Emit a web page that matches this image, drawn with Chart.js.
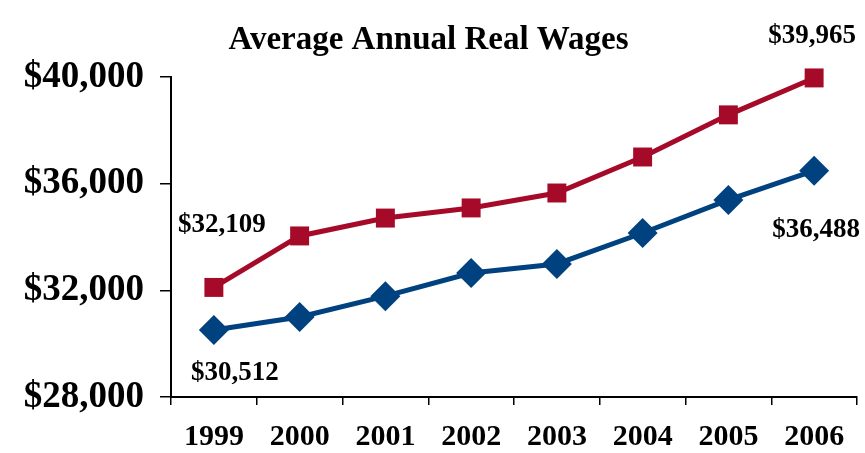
<!DOCTYPE html>
<html>
<head>
<meta charset="utf-8">
<script src="https://cdn.jsdelivr.net/npm/chart.js@4"></script>
<style>
html,body{margin:0;padding:0;background:#fff;}
canvas{display:block;}
</style>
</head>
<body>
<canvas id="c" width="865" height="453"></canvas>
<script>
const years = ['1999','2000','2001','2002','2003','2004','2005','2006'];
const upperSeries = [32109, 34040, 34710, 35090, 35650, 37000, 38580, 39965];
const lowerSeries = [30512, 31000, 31780, 32650, 32990, 34150, 35390, 36488];
const yTicks = [28000, 32000, 36000, 40000];
const titleText = 'Average Annual Real Wages';

const RED = '#A50A28';
const BLUE = '#00427F';
const FONT = "'Liberation Serif', 'Times New Roman', serif";

const fmt = v => '$' + v.toLocaleString('en-US');

// end-point value labels
const endLabels = {
  id: 'endLabels',
  afterDatasetsDraw(chart) {
    const ctx = chart.ctx;
    ctx.save();
    ctx.font = 'bold 27px ' + FONT;
    ctx.fillStyle = '#000';
    ctx.textAlign = 'center';
    ctx.textBaseline = 'middle';
    const specs = [
      {ds: 0, i: 0, dx: 8, dy: -62},
      {ds: 0, i: upperSeries.length - 1, dx: -2, dy: -42},
      {ds: 1, i: 0, dx: 21, dy: 43},
      {ds: 1, i: lowerSeries.length - 1, dx: 2, dy: 59}
    ];
    specs.forEach(s => {
      const el = chart.getDatasetMeta(s.ds).data[s.i];
      const v = chart.data.datasets[s.ds].data[s.i];
      ctx.fillText(fmt(v), el.x + s.dx, el.y + s.dy);
    });
    ctx.restore();
  }
};

new Chart(document.getElementById('c'), {
  type: 'line',
  data: {
    labels: years,
    datasets: [
      {
        data: upperSeries,
        borderColor: RED,
        backgroundColor: RED,
        borderWidth: 5,
        tension: 0,
        pointStyle: 'rect',
        pointRadius: 13.4,
        pointHoverRadius: 13.4,
        pointBorderWidth: 0,
        pointBackgroundColor: RED,
        clip: false
      },
      {
        data: lowerSeries,
        borderColor: BLUE,
        backgroundColor: BLUE,
        borderWidth: 5,
        tension: 0,
        pointStyle: 'rectRot',
        pointRadius: 15,
        pointHoverRadius: 15,
        pointBorderWidth: 0,
        pointBackgroundColor: BLUE,
        clip: false
      }
    ]
  },
  options: {
    responsive: false,
    animation: false,
    events: [],
    layout: { autoPadding: false, padding: { left: 0, right: 8, top: 0, bottom: 0 } },
    plugins: {
      legend: { display: false },
      tooltip: { enabled: false },
      title: {
        display: true,
        text: titleText,
        color: '#000',
        font: { family: FONT, size: 33, weight: 'bold', lineHeight: 1.0 },
        padding: { top: 24, bottom: 20 }
      }
    },
    scales: {
      x: {
        offset: true,
        grid: {
          offset: true,
          drawOnChartArea: false,
          drawTicks: true,
          tickLength: 8,
          color: '#000',
          lineWidth: 1.5
        },
        border: { display: true, color: '#000', width: 2 },
        ticks: {
          color: '#000',
          font: { family: FONT, size: 30, weight: 'bold' },
          padding: 14,
          maxRotation: 0
        },
        afterFit(s) { s.height = 56; }
      },
      y: {
        min: yTicks[0],
        max: yTicks[yTicks.length - 1],
        afterBuildTicks(s) { s.ticks = yTicks.map(v => ({ value: v })); },
        grid: {
          drawOnChartArea: false,
          drawTicks: true,
          tickLength: 11,
          color: '#000',
          lineWidth: 1.5
        },
        border: { display: true, color: '#000', width: 2 },
        ticks: {
          color: '#000',
          font: { family: FONT, size: 37, weight: 'bold' },
          padding: 16,
          callback: v => fmt(v)
        },
        afterFit(s) { s.width = 171; }
      }
    }
  },
  plugins: [endLabels]
});
</script>
</body>
</html>
